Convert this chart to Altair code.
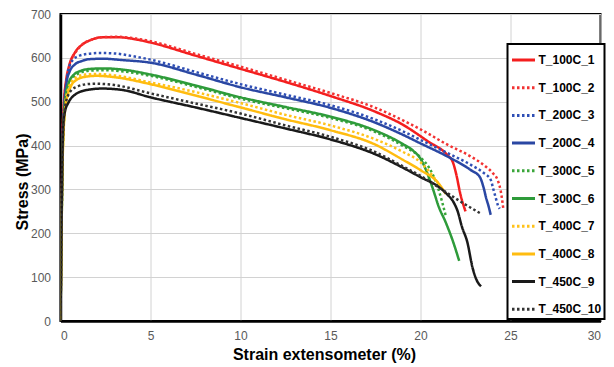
import altair as alt
import pandas as pd

series = ["T_100C_1", "T_100C_2", "T_200C_3", "T_200C_4", "T_300C_5",
          "T_300C_6", "T_400C_7", "T_400C_8", "T_450C_9", "T_450C_10"]
colors = ["#f41e1e", "#f23232", "#2f4fb5", "#2a47a3", "#3aa63a",
          "#2e9b3a", "#ffc21a", "#ffbc10", "#1a1a1a", "#333333"]
dashes = [[1, 0], [2.5, 2.5], [2.5, 2.5], [1, 0], [2.5, 2.5],
          [1, 0], [2.5, 2.5], [1, 0], [1, 0], [2.5, 2.5]]

# strain (%) / stress (MPa)
t100c1_x = [0, 0.06, 0.12, 0.2, 0.3, 0.5, 0.8, 1.2, 1.7, 2.3, 3.2, 4.2, 5, 7.5, 10, 12.5, 15, 17.5, 19, 20.4, 21.5, 21.8, 22.0, 22.2, 22.5]
t100c1_y = [0, 250, 430, 505, 545, 585, 612, 630, 641, 647, 647, 642, 635, 605, 575, 545, 513, 477, 448, 410, 378, 362, 332, 292, 250]

t100c2_x = [0, 0.06, 0.12, 0.2, 0.3, 0.5, 0.8, 1.2, 1.7, 2.3, 3.2, 4.2, 5, 7.5, 10, 12.5, 15, 17.5, 19, 20, 21.5, 22.8, 23.6, 24.0, 24.3, 24.45, 24.55, 24.6]
t100c2_y = [0, 240, 420, 500, 540, 582, 610, 630, 641, 647, 648, 644, 638, 609, 580, 550, 520, 486, 458, 437, 402, 375, 353, 338, 320, 298, 272, 256]

t200c3_x = [0, 0.06, 0.12, 0.2, 0.3, 0.45, 0.7, 1.0, 1.5, 2.2, 3.0, 4.0, 5, 7.5, 10, 12.5, 15, 17.5, 19, 20, 21.5, 22.8, 23.5, 23.9, 24.05, 24.2, 24.3, 24.4]
t200c3_y = [0, 230, 410, 490, 535, 575, 596, 604, 609, 611, 610, 604, 596, 568, 540, 516, 492, 459, 433, 413, 383, 356, 338, 322, 300, 278, 264, 256]

t200c4_x = [0, 0.06, 0.12, 0.2, 0.34, 0.5, 0.8, 1.2, 1.6, 2.4, 3.4, 5, 7.5, 10, 12.5, 15, 17.5, 19, 20, 21.5, 22.8, 23.3, 23.5, 23.65, 23.78, 23.9]
t200c4_y = [0, 220, 400, 480, 545, 568, 585, 593, 597, 598, 595, 589, 562, 533, 510, 486, 452, 425, 405, 375, 344, 328, 305, 280, 262, 242]

t300c5_x = [0, 0.06, 0.12, 0.2, 0.3, 0.45, 0.7, 1.1, 1.7, 2.4, 3.5, 5, 7.5, 10, 12.5, 15, 17.5, 19, 20, 20.5, 20.9, 21.2, 21.4]
t300c5_y = [0, 210, 380, 460, 505, 535, 555, 566, 571, 572, 569, 559, 534, 507, 485, 463, 431, 400, 373, 348, 312, 272, 240]

t300c6_x = [0, 0.06, 0.12, 0.2, 0.3, 0.45, 0.7, 1.1, 1.7, 2.4, 3.5, 5, 7.5, 10, 12.5, 15, 17.5, 19, 19.6, 20, 20.3, 20.7, 21.0, 21.4, 21.8, 22.15]
t300c6_y = [0, 215, 385, 470, 515, 542, 560, 570, 575, 576, 573, 562, 537, 510, 488, 466, 434, 404, 388, 370, 345, 300, 262, 225, 182, 137]

t400c7_x = [0, 0.05, 0.1, 0.16, 0.25, 0.4, 0.6, 0.9, 1.4, 2.0, 3.0, 5, 7.5, 10, 12.5, 15, 17.5, 19, 20, 20.5, 21.0, 21.2]
t400c7_y = [0, 180, 340, 430, 490, 525, 545, 556, 562, 563, 560, 544, 522, 497, 470, 446, 414, 386, 362, 340, 313, 300]

t400c8_x = [0, 0.05, 0.1, 0.16, 0.25, 0.4, 0.6, 0.9, 1.4, 2.0, 3.0, 5, 7.5, 10, 12.5, 15, 17.5, 19, 20, 21.0, 21.4]
t400c8_y = [0, 170, 330, 420, 480, 515, 537, 550, 557, 559, 556, 540, 514, 487, 460, 435, 402, 368, 344, 314, 290]

t450c9_x = [0, 0.05, 0.1, 0.16, 0.25, 0.43, 0.8, 1.5, 2.3, 3.4, 5, 7.5, 10, 12.5, 15, 17.5, 19, 20, 21.0, 21.4, 21.9, 22.05, 22.3, 22.6, 22.9, 23.1, 23.36]
t450c9_y = [0, 200, 360, 450, 478, 497, 516, 527, 530, 527, 510, 487, 463, 439, 414, 380, 350, 328, 306, 292, 266, 252, 215, 180, 120, 95, 79]

t450c10_x = [0, 0.05, 0.1, 0.16, 0.25, 0.4, 0.6, 0.9, 1.3, 1.9, 3.0, 5, 7.5, 10, 12.5, 15, 17.5, 19, 20, 21.3, 22.2, 23.3]
t450c10_y = [0, 190, 350, 445, 488, 512, 526, 534, 539, 541, 538, 519, 496, 473, 446, 420, 385, 353, 331, 297, 273, 246]

x_ticks = [0, 5, 10, 15, 20, 25, 30]
y_ticks = [0, 100, 200, 300, 400, 500, 600, 700]

curves = [(t100c1_x, t100c1_y), (t100c2_x, t100c2_y), (t200c3_x, t200c3_y),
          (t200c4_x, t200c4_y), (t300c5_x, t300c5_y), (t300c6_x, t300c6_y),
          (t400c7_x, t400c7_y), (t400c8_x, t400c8_y), (t450c9_x, t450c9_y),
          (t450c10_x, t450c10_y)]

rows = []
for name, (xs, ys) in zip(series, curves):
    for a, b in zip(xs, ys):
        rows.append({"series": name, "strain": a, "stress": b})
df = pd.DataFrame(rows)

legend = alt.Legend(
    title=None, orient="none", legendX=447, legendY=30,
    fillColor="white", padding=3,
    symbolType="stroke", symbolSize=529, symbolStrokeWidth=3,
    labelFont="Liberation Sans", labelFontWeight="bold", labelFontSize=12,
    labelColor="black", labelOffset=2,
)

chart = alt.Chart(df).mark_line(strokeWidth=2.5, interpolate="monotone", clip=True).encode(
    x=alt.X("strain:Q", scale=alt.Scale(domain=[0, 30], nice=False),
            axis=alt.Axis(values=x_ticks, title="Strain extensometer (%)", labelPadding=9,
                          titleX=263.5, titleY=33, titleBaseline="middle")),
    y=alt.Y("stress:Q", scale=alt.Scale(domain=[0, 700], nice=False),
            axis=alt.Axis(values=y_ticks, title="Stress (MPa)", labelPadding=10,
                          titleX=-38, titleY=167.5, titleBaseline="middle", titleAngle=270)),
    color=alt.Color("series:N", sort=series, scale=alt.Scale(domain=series, range=colors), legend=legend),
    strokeDash=alt.StrokeDash("series:N", sort=series, scale=alt.Scale(domain=series, range=dashes), legend=legend),
    detail="series:N",
).properties(
    width=540, height=307,
    autosize=alt.AutoSizeParams(type="none"),
    padding={"left": 52.5, "top": 6, "right": 5, "bottom": 44},
).configure_view(
    stroke="black", strokeWidth=2
).configure_legend(
    strokeColor="black", strokeWidth=2, rowPadding=8.7,
).configure_axis(
    grid=True, gridColor="#d2d2d2", gridWidth=1,
    domainColor="black", domainWidth=2.5,
    ticks=False, tickSize=0,
    labelFont="Liberation Sans", labelFontSize=12, labelColor="#595959",
    titleFont="Liberation Sans", titleFontSize=16, titleFontWeight="bold", titleColor="black",
)

chart.save("out.html", embed_options={"renderer": "svg", "actions": False})
